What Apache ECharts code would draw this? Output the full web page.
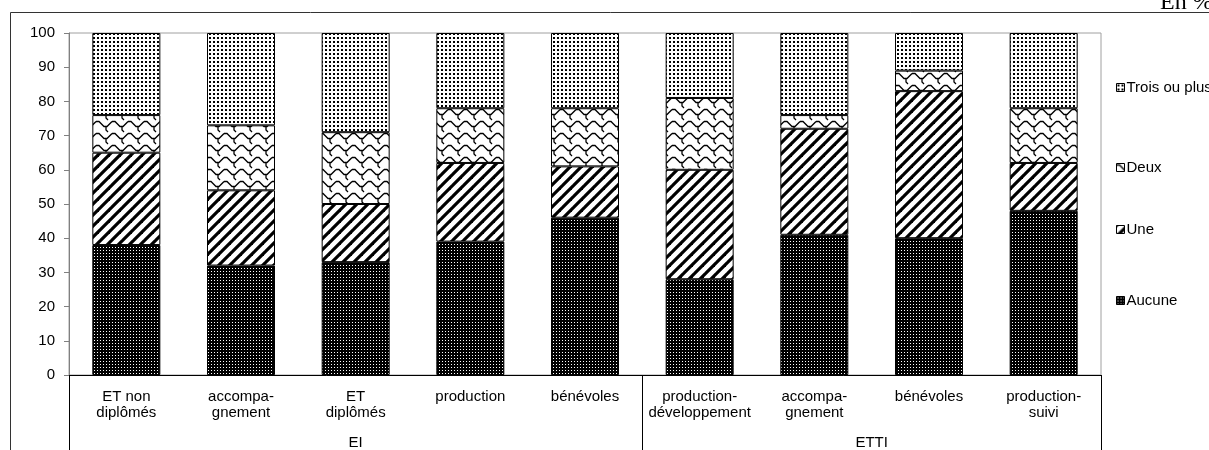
<!DOCTYPE html>
<html>
<head>
<meta charset="utf-8">
<script src="https://cdn.jsdelivr.net/npm/echarts@6/dist/echarts.min.js"></script>
<style>
  html, body { margin: 0; padding: 0; background: #fff; }
  #chart { width: 1209px; height: 450px; }
</style>
</head>
<body>
<div id="chart"></div>
<script>
const categories = [
  'ET non\ndiplômés', 'accompa-\ngnement', 'ET\ndiplômés', 'production', 'bénévoles',
  'production-\ndéveloppement', 'accompa-\ngnement', 'bénévoles', 'production-\nsuivi'
]
// group labels sit on half-category steps: EI centred on 0-4, ETTI on 5-8
const groupLabels = ['', '', '', '', '', 'EI', '', '', '', '', '', '', '', '', 'ETTI', '', '', '', '']
const groupBreaks = [0, 10, 18]

const aucune = [38, 32, 33, 39, 46, 28, 41, 40, 48]
const une = [27, 22, 17, 23, 15, 32, 31, 43, 14]
const deux = [11, 19, 21, 16, 17, 21, 4, 6, 16]
const troisOuPlus = [24, 27, 29, 22, 22, 19, 24, 11, 22]

const font = '"Liberation Sans", Arial, sans-serif'

function tile(w, h, draw) {
  const c = document.createElement('canvas')
  c.width = w
  c.height = h
  const ctx = c.getContext('2d')
  draw(ctx, w, h)
  return { image: c, repeat: 'repeat' }
}

// dense dark dots
const patAucune = tile(3, 3, (ctx, w, h) => {
  ctx.fillStyle = '#000'
  ctx.fillRect(0, 0, w, h)
  ctx.fillStyle = '#fff'
  ctx.fillRect(1, 1, 1, 1)
})

// wide diagonal stripes
const patUne = tile(11, 11, (ctx, w, h) => {
  ctx.fillStyle = '#fff'
  ctx.fillRect(0, 0, w, h)
  ctx.strokeStyle = '#000'
  ctx.lineWidth = 3.2
  for (let k = -1; k <= 1; k++) {
    ctx.beginPath()
    ctx.moveTo(k * w - 2, h + 2)
    ctx.lineTo(k * w + w + 2, -2)
    ctx.stroke()
  }
})

// shingle / wave pattern
const patDeux = tile(16, 12, (ctx, w, h) => {
  ctx.fillStyle = '#fff'
  ctx.fillRect(0, 0, w, h)
  ctx.strokeStyle = '#000'
  ctx.lineWidth = 1.3
  for (let dx = -w; dx <= w; dx += w) {
    for (let dy = -h; dy <= h; dy += h) {
      ctx.beginPath()
      ctx.moveTo(dx + 0, dy + 1.5)
      ctx.lineTo(dx + 3, dy + 1.5)
      ctx.lineTo(dx + 8, dy + 6.5)
      ctx.lineTo(dx + 11, dy + 6.5)
      ctx.lineTo(dx + 16, dy + 1.5)
      ctx.stroke()
      ctx.beginPath()
      ctx.moveTo(dx + 10, dy + 6.5)
      ctx.lineTo(dx + 10, dy + 10)
      ctx.lineTo(dx + 12, dy + 12)
      ctx.stroke()
    }
  }
})

// light sparse dots
const patTrois = tile(4, 4, (ctx, w, h) => {
  ctx.fillStyle = '#fff'
  ctx.fillRect(0, 0, w, h)
  ctx.fillStyle = '#000'
  ctx.fillRect(1, 1, 2, 2)
})

const chart = echarts.init(document.getElementById('chart'), null, { renderer: 'canvas' })

function bar(name, data, color) {
  return {
    name,
    type: 'bar',
    stack: 'total',
    barWidth: 68,
    data,
    itemStyle: { color, borderColor: '#000', borderWidth: 1 },
    emphasis: { disabled: true },
  }
}

function legendAt(name, top) {
  return {
    data: [name],
    left: 1111,
    top,
    orient: 'vertical',
    icon: 'rect',
    itemWidth: 8,
    itemHeight: 8,
    itemGap: 0,
    selectedMode: false,
    itemStyle: { borderColor: '#000', borderWidth: 1 },
    textStyle: { fontFamily: font, fontSize: 15, color: '#000', padding: [0, 0, 0, -3] },
  }
}

chart.setOption({
  animation: false,
  textStyle: { fontFamily: font },
  grid: {
    left: 69,
    right: 108,
    top: 33,
    bottom: 71,
    show: true,
    borderColor: '#a0a0a0',
    borderWidth: 1,
  },
  legend: [
    legendAt('Trois ou plus', 75),
    legendAt('Deux', 155),
    legendAt('Une', 217),
    legendAt('Aucune', 288),
  ],
  xAxis: [
    {
      type: 'category',
      data: categories,
      axisLine: { lineStyle: { color: '#000', width: 1 } },
      axisTick: { interval: 0, length: 57, lineStyle: { color: '#000' } },
      axisLabel: { interval: 0, margin: 14, fontSize: 15, lineHeight: 16, color: '#000', fontFamily: font },
    },
    {
      type: 'category',
      boundaryGap: false,
      position: 'bottom',
      data: groupLabels,
      axisLine: { show: false },
      axisTick: {
        interval: (i) => groupBreaks.includes(i),
        length: 75,
        lineStyle: { color: '#000' },
      },
      axisLabel: { interval: 0, margin: 60, fontSize: 15, color: '#000', fontFamily: font },
    },
  ],
  yAxis: {
    type: 'value',
    min: 0,
    max: 100,
    interval: 10,
    axisLine: { show: true, lineStyle: { color: '#808080' } },
    axisTick: { show: true, length: 5, lineStyle: { color: '#808080' } },
    axisLabel: { fontSize: 15, color: '#000', margin: 14, fontFamily: font },
    splitLine: { show: false },
  },
  graphic: [
    {
      type: 'rect',
      silent: true,
      shape: { x: 10.5, y: 12.5, width: 1400, height: 600 },
      style: { fill: 'none', stroke: '#333', lineWidth: 1 },
    },
    {
      type: 'text',
      silent: true,
      x: 1160,
      y: 3,
      style: {
        text: 'En %',
        font: '24px "Liberation Serif", "Times New Roman", serif',
        fill: '#000',
        verticalAlign: 'middle',
      },
    },
  ],
  series: [
    bar('Aucune', aucune, patAucune),
    bar('Une', une, patUne),
    bar('Deux', deux, patDeux),
    bar('Trois ou plus', troisOuPlus, patTrois),
  ],
})
</script>
</body>
</html>
